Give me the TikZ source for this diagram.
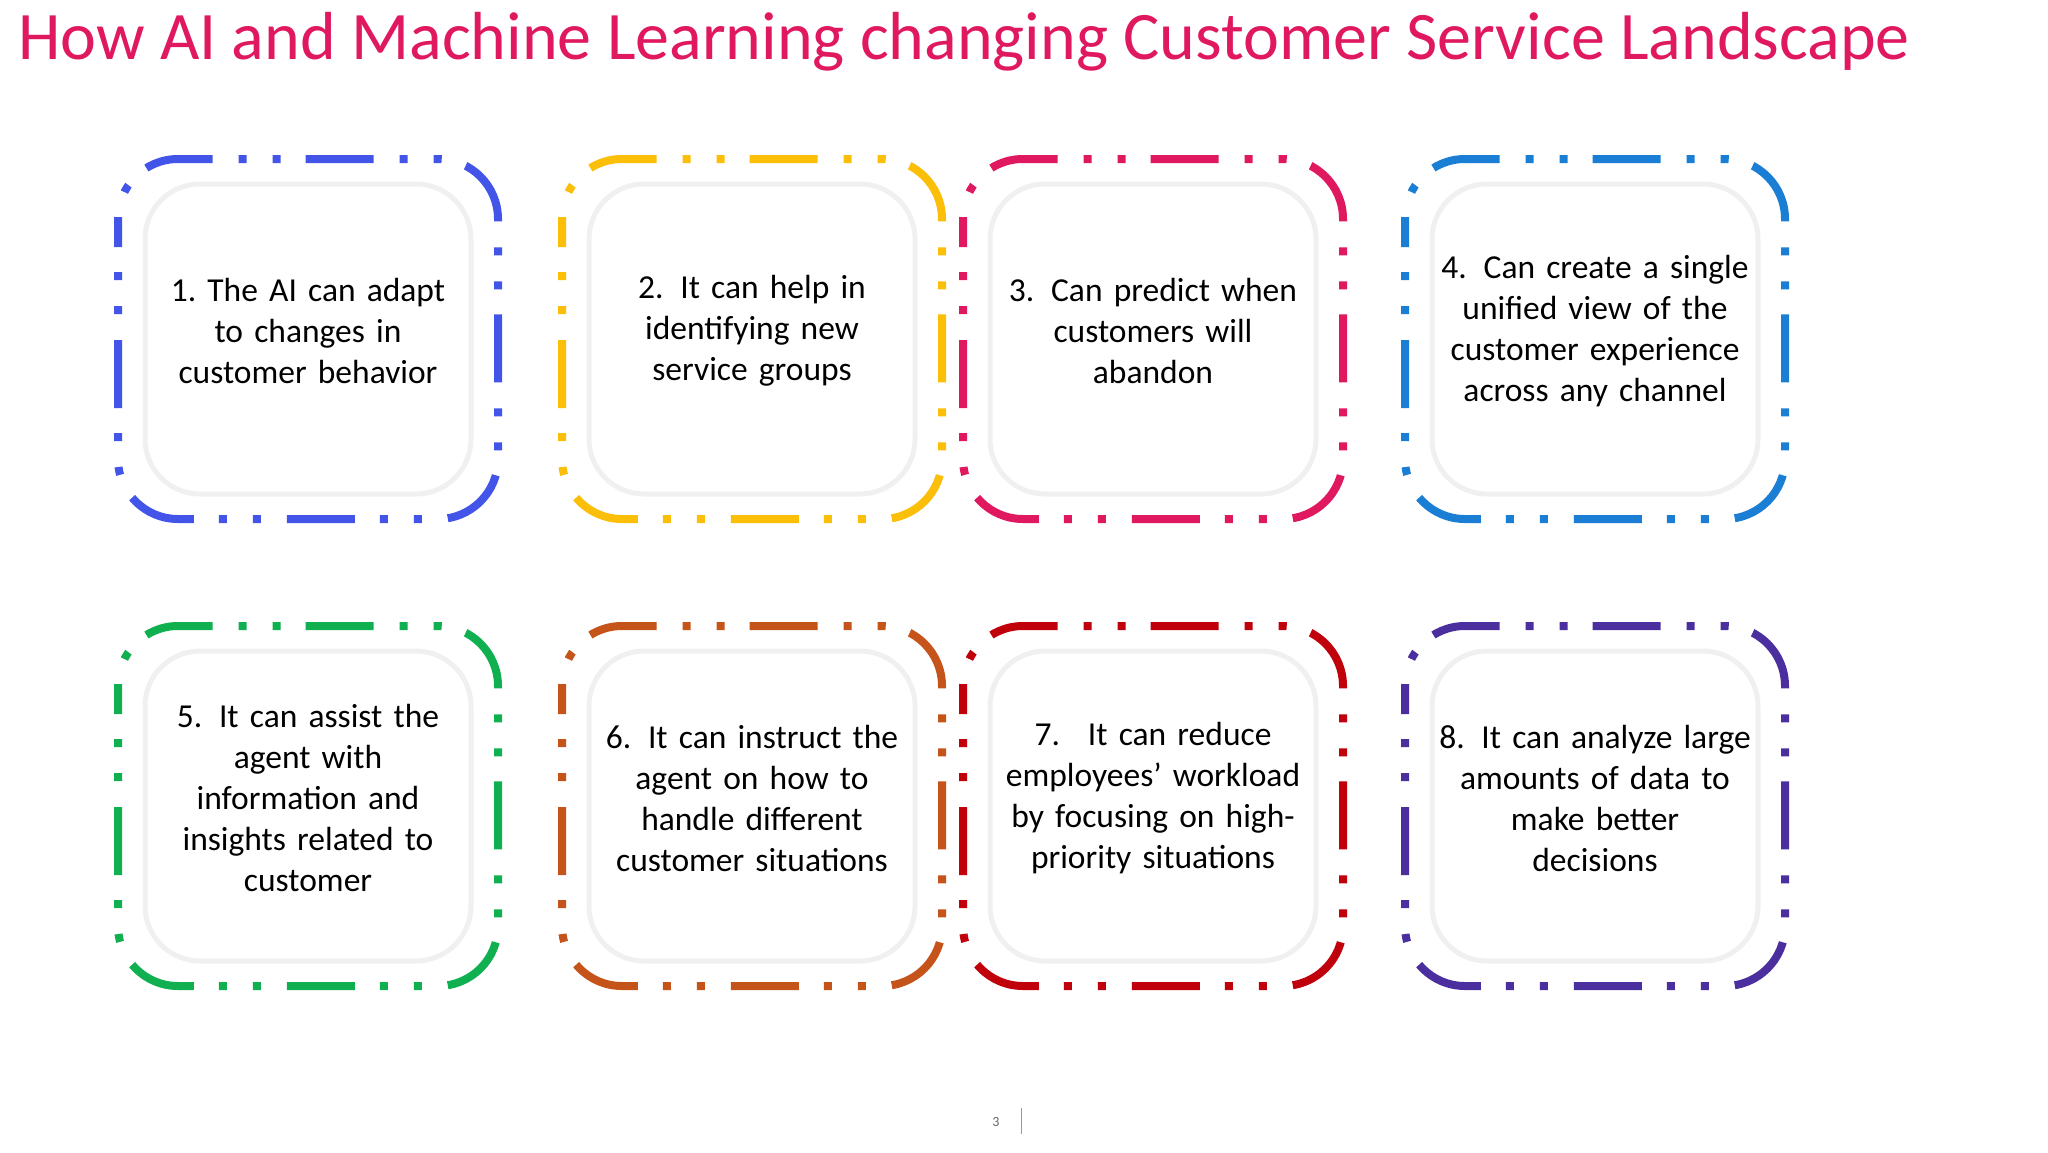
\documentclass[tikz,border=0pt]{standalone}
\usepackage{fontspec}
\setmainfont{Carlito}
\begin{document}
\begin{tikzpicture}[x=1pt,y=-1pt,
  outer/.style={line width=8pt,rounded corners=60pt,dash pattern=on 68pt off 25pt on 8pt off 26pt on 8pt off 26pt,dash phase=40pt},
  inner/.style={draw=black!6,line width=5pt,rounded corners=55pt,fill=white},
  txt/.style={align=center,font=\fontsize{33.5}{41}\selectfont,text width=340pt}]
\useasboundingbox (0,0) rectangle (2048,1152);
\definecolor{cA}{HTML}{4355E8}\definecolor{cB}{HTML}{FBBF0A}
\definecolor{cC}{HTML}{E0185F}\definecolor{cD}{HTML}{1A7FD4}
\definecolor{cE}{HTML}{10B050}\definecolor{cF}{HTML}{C5541A}
\definecolor{cG}{HTML}{C0000B}\definecolor{cH}{HTML}{4B2F9E}
\node[anchor=base west,text=cC,font=\fontsize{68}{78}\selectfont,inner sep=0] (title) at (18,59) {How AI and Machine Learning changing Customer Service Landscape};
\foreach \x/\y/\c/\t [count=\i] in {
 118/159/cA/{1.~The AI can adapt\\ to changes in\\ customer behavior},
 562/159/cB/{2. It can help in\\ identifying new\\ service groups},
 963/159/cC/{3. Can predict when\\ customers will\\ abandon},
 1405/159/cD/{4. Can create a single\\ unified view of the\\ customer experience\\ across any channel},
 118/626/cE/{5. It can assist the\\ agent with\\ information and\\ insights related to\\ customer},
 562/626/cF/{6. It can instruct the\\ agent on how to\\ handle different\\ customer situations},
 963/626/cG/{7.~ It can reduce\\ employees' workload\\ by focusing on high-\\ priority situations},
 1405/626/cH/{8. It can analyze large\\ amounts of data to\\ make better\\ decisions}}{
 \draw[outer,draw=\c] (\x,\y) rectangle ++(380,360);
 \draw[inner] (\x+27,\y+25) rectangle ++(326,310);
 \node[txt] (t\i) at (\x+190,\y+172) {\t};
}
\node[font=\fontsize{14}{16}\selectfont,text=black!60] (pg) at (996,1122) {3};
\draw[black!40,line width=1pt] (1021,1108) -- (1021,1134);
\end{tikzpicture}
\end{document}
